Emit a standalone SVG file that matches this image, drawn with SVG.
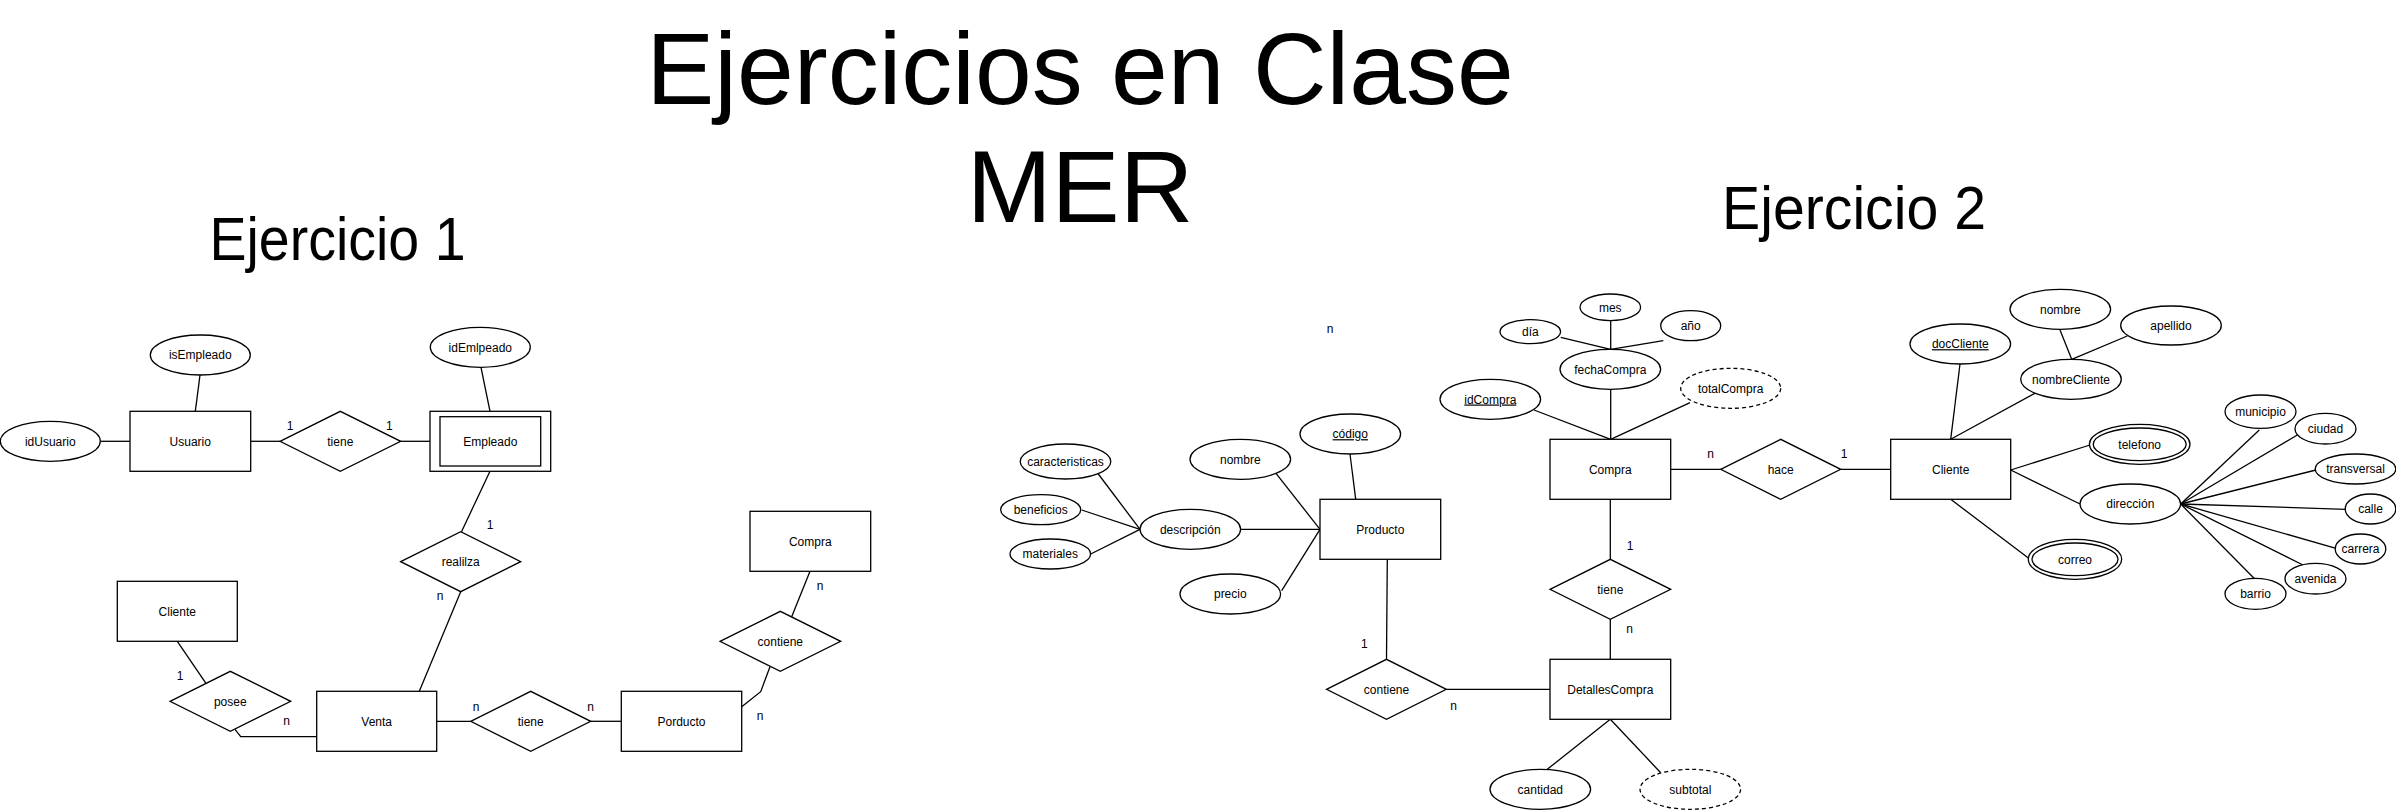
<svg xmlns="http://www.w3.org/2000/svg" width="2396" height="810" viewBox="0 0 2396 810">
<style>
.ent{fill:#fff;stroke:#000;stroke-width:1.3}
.attr{fill:#fff;stroke:#000;stroke-width:1.3}
.der{fill:#fff;stroke:#000;stroke-width:1.3;stroke-dasharray:4 3}
.rel{fill:#fff;stroke:#000;stroke-width:1.3}
.ln{fill:none;stroke:#000;stroke-width:1.3}
text{font-family:"Liberation Sans",Arial,sans-serif;fill:#000}
.t{font-size:12px;text-anchor:middle}
.u{text-decoration:underline}
.big{text-anchor:middle}
</style>
<rect x="0" y="0" width="2396" height="810" fill="#fff"/>

<g id="title">
<text class="big" x="1080" y="104" font-size="102">Ejercicios en Clase</text>
<text class="big" x="1080" y="222" font-size="102">MER</text>
</g>
<g id="label-ej1"><text class="big" x="337.5" y="260" font-size="62" textLength="256" lengthAdjust="spacingAndGlyphs">Ejercicio 1</text></g>
<g id="label-ej2"><text class="big" x="1854" y="229" font-size="62" textLength="264" lengthAdjust="spacingAndGlyphs">Ejercicio 2</text></g>

<g id="connectors">
<!-- Ejercicio 1 -->
<line class="ln" x1="100.7" y1="441.3" x2="130" y2="441.3"/>
<line class="ln" x1="200" y1="375" x2="195.3" y2="411.3"/>
<line class="ln" x1="250.7" y1="441.3" x2="280" y2="441.3"/>
<line class="ln" x1="400.7" y1="441.3" x2="430" y2="441.3"/>
<line class="ln" x1="481" y1="367.3" x2="490" y2="411.3"/>
<line class="ln" x1="490" y1="471.3" x2="461.5" y2="531.7"/>
<line class="ln" x1="460.7" y1="591.7" x2="419.3" y2="691.3"/>
<line class="ln" x1="177.3" y1="641.3" x2="206" y2="683.3"/>
<polyline class="ln" points="235,729.3 240.7,736.7 316.7,736.7"/>
<line class="ln" x1="436.7" y1="721.3" x2="470.7" y2="721.3"/>
<line class="ln" x1="590.7" y1="721.3" x2="621.3" y2="721.3"/>
<polyline class="ln" points="741.7,706.7 760.7,691.7 770,666.7"/>
<line class="ln" x1="791.7" y1="616.7" x2="810" y2="571.3"/>
<!-- Ejercicio 2 -->
<line class="ln" x1="1098.3" y1="474" x2="1140" y2="529.3"/>
<line class="ln" x1="1081.7" y1="510" x2="1140" y2="529.3"/>
<line class="ln" x1="1090.7" y1="554" x2="1140" y2="529.3"/>
<line class="ln" x1="1240.7" y1="529.3" x2="1320" y2="529.3"/>
<line class="ln" x1="1276" y1="473.3" x2="1320" y2="529.3"/>
<line class="ln" x1="1281.7" y1="590.7" x2="1320" y2="529.3"/>
<line class="ln" x1="1350" y1="454" x2="1355.7" y2="499.3"/>
<line class="ln" x1="1387.3" y1="559.3" x2="1386.5" y2="659.3"/>
<line class="ln" x1="1446.3" y1="689.3" x2="1550" y2="689.3"/>
<line class="ln" x1="1610.3" y1="499.3" x2="1610.3" y2="559.3"/>
<line class="ln" x1="1610.3" y1="619.3" x2="1610.3" y2="659.3"/>
<line class="ln" x1="1610.3" y1="719.3" x2="1547.3" y2="769.3"/>
<line class="ln" x1="1610.3" y1="719.3" x2="1660.7" y2="772.7"/>
<line class="ln" x1="1560.7" y1="337.3" x2="1610.7" y2="349.3"/>
<line class="ln" x1="1610.7" y1="320.7" x2="1610.7" y2="349.3"/>
<line class="ln" x1="1663.3" y1="340.7" x2="1610.7" y2="349.3"/>
<line class="ln" x1="1610.7" y1="389.3" x2="1610.7" y2="439.3"/>
<line class="ln" x1="1534" y1="410" x2="1610.7" y2="439.3"/>
<line class="ln" x1="1690" y1="402.7" x2="1610.7" y2="439.3"/>
<line class="ln" x1="1670.7" y1="469.3" x2="1720.7" y2="469.3"/>
<line class="ln" x1="1840.7" y1="469.3" x2="1890.7" y2="469.3"/>
<line class="ln" x1="1960" y1="364" x2="1950.7" y2="439.3"/>
<line class="ln" x1="2060" y1="330" x2="2071.7" y2="359.3"/>
<line class="ln" x1="2127.3" y1="336" x2="2071.7" y2="359.3"/>
<line class="ln" x1="2035" y1="393.3" x2="1950.7" y2="439.3"/>
<line class="ln" x1="2010.7" y1="470" x2="2090" y2="445"/>
<line class="ln" x1="2010.7" y1="470" x2="2080" y2="504"/>
<line class="ln" x1="1950.7" y1="499.3" x2="2030" y2="559.3"/>
<line class="ln" x1="2180.7" y1="504" x2="2259.3" y2="430"/>
<line class="ln" x1="2180.7" y1="504" x2="2297.3" y2="435"/>
<line class="ln" x1="2180.7" y1="504" x2="2316" y2="470"/>
<line class="ln" x1="2180.7" y1="504" x2="2346" y2="509.3"/>
<line class="ln" x1="2180.7" y1="504" x2="2336" y2="548.3"/>
<line class="ln" x1="2180.7" y1="504" x2="2305" y2="566"/>
<line class="ln" x1="2180.7" y1="504" x2="2255" y2="579.3"/>
</g>

<g id="cardinalities">
<text class="t" x="290" y="430">1</text>
<text class="t" x="389.3" y="430">1</text>
<text class="t" x="490" y="529">1</text>
<text class="t" x="440" y="600">n</text>
<text class="t" x="180" y="680">1</text>
<text class="t" x="286.7" y="725.3">n</text>
<text class="t" x="476" y="710.7">n</text>
<text class="t" x="590.7" y="710.7">n</text>
<text class="t" x="820" y="590">n</text>
<text class="t" x="760" y="720">n</text>
<text class="t" x="1330" y="333">n</text>
<text class="t" x="1364.3" y="648">1</text>
<text class="t" x="1453.7" y="710">n</text>
<text class="t" x="1630" y="549.7">1</text>
<text class="t" x="1629.7" y="633">n</text>
<text class="t" x="1710.7" y="458">n</text>
<text class="t" x="1844" y="458">1</text>
</g>

<!-- Ejercicio 1 nodes -->
<g id="idUsuario"><ellipse class="attr" cx="50.3" cy="441.3" rx="50" ry="20"/><text class="t" x="50.3" y="445.5">idUsuario</text></g>
<g id="isEmpleado"><ellipse class="attr" cx="200.3" cy="355" rx="50" ry="20"/><text class="t" x="200.3" y="359.2">isEmpleado</text></g>
<g id="Usuario"><rect class="ent" x="130" y="411.3" width="120.7" height="60"/><text class="t" x="190.3" y="445.5">Usuario</text></g>
<g id="tiene1"><polygon class="rel" points="280,441.3 340.3,411.3 400.7,441.3 340.3,471.3"/><text class="t" x="340.3" y="445.5">tiene</text></g>
<g id="Empleado"><rect class="ent" x="430" y="411.3" width="120.7" height="60"/><rect class="ent" x="440" y="416.7" width="100.7" height="49.3"/><text class="t" x="490.3" y="445.5">Empleado</text></g>
<g id="idEmlpeado"><ellipse class="attr" cx="480.3" cy="347.3" rx="50" ry="20"/><text class="t" x="480.3" y="351.5">idEmlpeado</text></g>
<g id="realilza"><polygon class="rel" points="400.7,561.7 460.7,531.7 520.7,561.7 460.7,591.7"/><text class="t" x="460.7" y="565.9">realilza</text></g>
<g id="Cliente1"><rect class="ent" x="117.3" y="581.3" width="120" height="60"/><text class="t" x="177.3" y="615.5">Cliente</text></g>
<g id="posee"><polygon class="rel" points="170,701.3 230.3,671.3 290.7,701.3 230.3,731.3"/><text class="t" x="230.3" y="705.5">posee</text></g>
<g id="Venta"><rect class="ent" x="316.7" y="691.3" width="120" height="60"/><text class="t" x="376.7" y="725.5">Venta</text></g>
<g id="tiene2"><polygon class="rel" points="470.7,721.3 530.7,691.3 590.7,721.3 530.7,751.3"/><text class="t" x="530.7" y="725.5">tiene</text></g>
<g id="Porducto"><rect class="ent" x="621.3" y="691.3" width="120.4" height="60"/><text class="t" x="681.5" y="725.5">Porducto</text></g>
<g id="contiene1"><polygon class="rel" points="720,641.3 780.3,611.3 840.7,641.3 780.3,671.3"/><text class="t" x="780.3" y="645.5">contiene</text></g>
<g id="Compra1"><rect class="ent" x="750" y="511.3" width="120.7" height="60"/><text class="t" x="810.3" y="545.5">Compra</text></g>

<!-- Ejercicio 2 nodes -->
<g id="caracteristicas"><ellipse class="attr" cx="1065.5" cy="461.5" rx="45.3" ry="17.5"/><text class="t" x="1065.5" y="465.7">caracteristicas</text></g>
<g id="beneficios"><ellipse class="attr" cx="1040.7" cy="509.7" rx="40" ry="15"/><text class="t" x="1040.7" y="513.9">beneficios</text></g>
<g id="materiales"><ellipse class="attr" cx="1050.3" cy="554" rx="40.3" ry="15"/><text class="t" x="1050.3" y="558.2">materiales</text></g>
<g id="descripcion"><ellipse class="attr" cx="1190.3" cy="529.3" rx="50.3" ry="20"/><text class="t" x="1190.3" y="533.5">descripción</text></g>
<g id="nombreProd"><ellipse class="attr" cx="1240.3" cy="459.3" rx="50.3" ry="20"/><text class="t" x="1240.3" y="463.5">nombre</text></g>
<g id="codigo"><ellipse class="attr" cx="1350.3" cy="434" rx="50.3" ry="20"/><text class="t u" x="1350.3" y="438.2">código</text></g>
<g id="precio"><ellipse class="attr" cx="1230.3" cy="594" rx="50.3" ry="20"/><text class="t" x="1230.3" y="598.2">precio</text></g>
<g id="Producto"><rect class="ent" x="1320" y="499.3" width="120.7" height="60"/><text class="t" x="1380.3" y="533.5">Producto</text></g>
<g id="contiene2"><polygon class="rel" points="1326.5,689.3 1386.5,659.3 1446.3,689.3 1386.5,719.3"/><text class="t" x="1386.5" y="693.5">contiene</text></g>
<g id="DetallesCompra"><rect class="ent" x="1550" y="659.3" width="120.7" height="60"/><text class="t" x="1610.3" y="693.5">DetallesCompra</text></g>
<g id="cantidad"><ellipse class="attr" cx="1540.3" cy="789.3" rx="50.3" ry="20"/><text class="t" x="1540.3" y="793.5">cantidad</text></g>
<g id="subtotal"><ellipse class="der" cx="1690.3" cy="789.3" rx="50.3" ry="20"/><text class="t" x="1690.3" y="793.5">subtotal</text></g>
<g id="tiene3"><polygon class="rel" points="1550,589.3 1610.3,559.3 1670.7,589.3 1610.3,619.3"/><text class="t" x="1610.3" y="593.5">tiene</text></g>
<g id="Compra2"><rect class="ent" x="1550" y="439.3" width="120.7" height="60"/><text class="t" x="1610.3" y="473.5">Compra</text></g>
<g id="idCompra"><ellipse class="attr" cx="1490.3" cy="399.3" rx="50.3" ry="20"/><text class="t u" x="1490.3" y="403.5">idCompra</text></g>
<g id="fechaCompra"><ellipse class="attr" cx="1610.3" cy="369.3" rx="50.3" ry="20"/><text class="t" x="1610.3" y="373.5">fechaCompra</text></g>
<g id="totalCompra"><ellipse class="der" cx="1730.7" cy="388.3" rx="50" ry="20"/><text class="t" x="1730.7" y="392.5">totalCompra</text></g>
<g id="dia"><ellipse class="attr" cx="1530.3" cy="331.7" rx="30.3" ry="12"/><text class="t" x="1530.3" y="335.9">día</text></g>
<g id="mes"><ellipse class="attr" cx="1610.3" cy="307.3" rx="30.3" ry="13.3"/><text class="t" x="1610.3" y="311.5">mes</text></g>
<g id="anio"><ellipse class="attr" cx="1690.7" cy="325.7" rx="30" ry="15"/><text class="t" x="1690.7" y="329.9">año</text></g>
<g id="hace"><polygon class="rel" points="1720.7,469.3 1780.7,439.3 1840.7,469.3 1780.7,499.3"/><text class="t" x="1780.7" y="473.5">hace</text></g>
<g id="Cliente2"><rect class="ent" x="1890.7" y="439.3" width="120" height="60"/><text class="t" x="1950.7" y="473.5">Cliente</text></g>
<g id="docCliente"><ellipse class="attr" cx="1960.3" cy="344" rx="50.3" ry="20"/><text class="t u" x="1960.3" y="348.2">docCliente</text></g>
<g id="nombreCli"><ellipse class="attr" cx="2060.3" cy="309.3" rx="50.3" ry="20"/><text class="t" x="2060.3" y="313.5">nombre</text></g>
<g id="apellido"><ellipse class="attr" cx="2171" cy="325.5" rx="50.3" ry="19.5"/><text class="t" x="2171" y="329.7">apellido</text></g>
<g id="nombreCliente"><ellipse class="attr" cx="2071" cy="379.3" rx="50.3" ry="20"/><text class="t" x="2071" y="383.5">nombreCliente</text></g>
<g id="telefono"><ellipse class="attr" cx="2139.7" cy="444.3" rx="50.3" ry="20"/><ellipse class="attr" cx="2139.7" cy="444.3" rx="46.5" ry="16.3"/><text class="t" x="2139.7" y="448.5">telefono</text></g>
<g id="direccion"><ellipse class="attr" cx="2130.3" cy="504" rx="50.3" ry="20"/><text class="t" x="2130.3" y="508.2">dirección</text></g>
<g id="correo"><ellipse class="attr" cx="2075" cy="559.3" rx="46.7" ry="20"/><ellipse class="attr" cx="2075" cy="559.3" rx="43" ry="16.3"/><text class="t" x="2075" y="563.5">correo</text></g>
<g id="municipio"><ellipse class="attr" cx="2260.5" cy="411.7" rx="35.5" ry="16.7"/><text class="t" x="2260.5" y="415.9">municipio</text></g>
<g id="ciudad"><ellipse class="attr" cx="2325.5" cy="428.7" rx="30.5" ry="15.3"/><text class="t" x="2325.5" y="432.9">ciudad</text></g>
<g id="transversal"><ellipse class="attr" cx="2355.5" cy="469" rx="40.3" ry="15"/><text class="t" x="2355.5" y="473.2">transversal</text></g>
<g id="calle"><ellipse class="attr" cx="2370.5" cy="509" rx="25.3" ry="15"/><text class="t" x="2370.5" y="513.2">calle</text></g>
<g id="carrera"><ellipse class="attr" cx="2360.5" cy="549" rx="25.3" ry="15"/><text class="t" x="2360.5" y="553.2">carrera</text></g>
<g id="avenida"><ellipse class="attr" cx="2315.5" cy="578.7" rx="30.5" ry="15.3"/><text class="t" x="2315.5" y="582.9">avenida</text></g>
<g id="barrio"><ellipse class="attr" cx="2255.5" cy="593.8" rx="30.5" ry="15.5"/><text class="t" x="2255.5" y="598">barrio</text></g>
</svg>
